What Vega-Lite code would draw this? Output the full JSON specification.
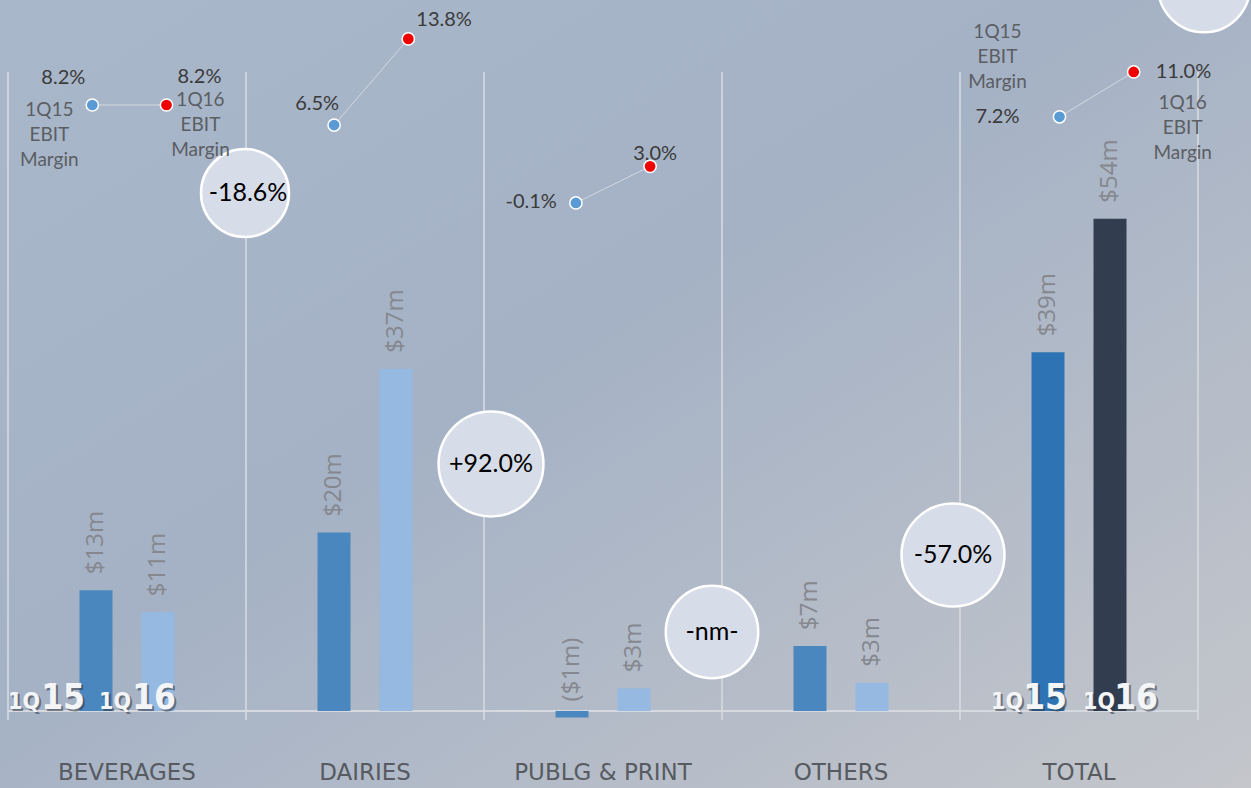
{
  "$schema": "https://vega.github.io/schema/vega-lite/v6.json",
  "width": 1251,
  "height": 788,
  "autosize": {"type": "none"},
  "padding": 0,
  "background": "#acb7c7",
  "config": {
    "font": "Lato",
    "view": {
      "stroke": null,
      "fill": {"gradient": "linear", "x1": 0, "y1": 0, "x2": 1, "y2": 1,
        "stops": [{"offset": 0, "color": "#a9b7ca"}, {"offset": 0.45, "color": "#a5b2c5"}, {"offset": 1, "color": "#c4c6cb"}]}
    }
  },
  "datasets": {
    "rows": [
      {"cat": "BEVERAGES", "period": "1Q15", "value": 13.2, "label": "$13m", "margin": 0.082, "mtext": "8.2%", "change": "-18.6%"},
      {"cat": "BEVERAGES", "period": "1Q16", "value": 10.8, "label": "$11m", "margin": 0.082, "mtext": "8.2%", "change": null},
      {"cat": "DAIRIES", "period": "1Q15", "value": 19.5, "label": "$20m", "margin": 0.065, "mtext": "6.5%", "change": "+92.0%"},
      {"cat": "DAIRIES", "period": "1Q16", "value": 37.4, "label": "$37m", "margin": 0.138, "mtext": "13.8%", "change": null},
      {"cat": "PUBLG & PRINT", "period": "1Q15", "value": -0.7, "label": "($1m)", "margin": -0.001, "mtext": "-0.1%", "change": "-nm-"},
      {"cat": "PUBLG & PRINT", "period": "1Q16", "value": 2.5, "label": "$3m", "margin": 0.030, "mtext": "3.0%", "change": null},
      {"cat": "OTHERS", "period": "1Q15", "value": 7.1, "label": "$7m", "margin": null, "mtext": null, "change": "-57.0%"},
      {"cat": "OTHERS", "period": "1Q16", "value": 3.1, "label": "$3m", "margin": null, "mtext": null, "change": null},
      {"cat": "TOTAL", "period": "1Q15", "value": 39.2, "label": "$39m", "margin": 0.072, "mtext": "7.2%", "change": ""},
      {"cat": "TOTAL", "period": "1Q16", "value": 53.8, "label": "$54m", "margin": 0.110, "mtext": "11.0%", "change": null}
    ]
  },
  "layer": [
    {
      "data": {"name": "rows"},
      "encoding": {
        "x": {"field": "cat", "type": "nominal", "sort": null, "axis": null, "scale": {"domain": ["BEVERAGES", "DAIRIES", "PUBLG & PRINT", "OTHERS", "TOTAL"], "range": [8, 1198], "paddingInner": 0, "paddingOuter": 0}},
        "y": {"field": "value", "type": "quantitative", "axis": null, "scale": {"domain": [-8.415, 77.705], "nice": false, "zero": false}}
      },
      "layer": [
        {
          "transform": [{"filter": "datum.period==='1Q15'"}],
          "mark": {"type": "rect", "color": "#d6dae0"},
          "encoding": {"y": {"datum": 0.12}, "y2": {"datum": -0.12}}
        },
        {
          "transform": [{"filter": "datum.period==='1Q15'"}],
          "mark": {"type": "rule", "color": "#d8dce2", "strokeWidth": 1.5},
          "encoding": {
            "x": {"field": "cat", "type": "nominal", "sort": null, "axis": null, "bandPosition": 0, "scale": {"domain": ["BEVERAGES", "DAIRIES", "PUBLG & PRINT", "OTHERS", "TOTAL"], "range": [8, 1198], "paddingInner": 0, "paddingOuter": 0}},
            "y": {"datum": 69.84}, "y2": {"datum": -0.98}
          }
        },
        {
          "transform": [{"filter": "datum.period==='1Q15' && datum.cat==='TOTAL'"}],
          "mark": {"type": "rule", "color": "#d8dce2", "strokeWidth": 1.5},
          "encoding": {
            "x": {"field": "cat", "type": "nominal", "sort": null, "axis": null, "bandPosition": 1, "scale": {"domain": ["BEVERAGES", "DAIRIES", "PUBLG & PRINT", "OTHERS", "TOTAL"], "range": [8, 1198], "paddingInner": 0, "paddingOuter": 0}},
            "y": {"datum": 69.84}, "y2": {"datum": -0.98}
          }
        },
        {
          "mark": {"type": "bar"},
          "encoding": {
            "xOffset": {"field": "period", "type": "nominal", "scale": {"domain": ["1Q15", "1Q16"], "range": [9.5, 228.5], "paddingInner": 0.468, "paddingOuter": 1}},
            "y2": {"datum": 0},
            "color": {
              "condition": [
                {"test": "datum.cat==='TOTAL' && datum.period==='1Q16'", "value": "#323d4f"},
                {"test": "datum.cat==='TOTAL'", "value": "#2e74b5"},
                {"test": "datum.period==='1Q16'", "value": "#95b9e0"}
              ],
              "value": "#4a87be"
            }
          }
        },
        {
          "mark": {"type": "text", "angle": 270, "align": "left", "baseline": "middle", "dx": 16, "fontSize": 24, "font": "Open Sans", "color": "#85888e"},
          "encoding": {
            "xOffset": {"field": "period", "type": "nominal", "scale": {"domain": ["1Q15", "1Q16"], "range": [9.5, 228.5], "paddingInner": 0.468, "paddingOuter": 1}},
            "text": {"field": "label"}
          }
        },
        {
          "transform": [{"filter": "datum.period==='1Q15'"}],
          "mark": {"type": "text", "align": "center", "baseline": "middle", "fontSize": 23, "font": "DejaVu Sans", "color": "#575b61"},
          "encoding": {"y": {"datum": -6.78}, "text": {"field": "cat"}}
        },
        {
          "transform": [{"filter": "datum.period==='1Q15' && datum.cat==='BEVERAGES'"}],
          "encoding": {
            "x": {"field": "cat", "type": "nominal", "sort": null, "axis": null, "bandPosition": 0, "scale": {"domain": ["BEVERAGES", "DAIRIES", "PUBLG & PRINT", "OTHERS", "TOTAL"], "range": [8, 1198], "paddingInner": 0, "paddingOuter": 0}},
            "y": {"datum": 0}
          },
          "layer": [
            {"mark": {"type": "text", "text": "1Q", "align": "right", "baseline": "alphabetic", "dx": 34, "dy": 0, "fontSize": 23, "fontWeight": "bold", "font": "Liberation Sans Narrow, DejaVu Sans Condensed, Lato", "color": "#2f3742", "opacity": 0.55}},
            {"mark": {"type": "text", "text": "15", "align": "right", "baseline": "alphabetic", "dx": 79, "dy": 0, "fontSize": 35, "fontWeight": "bold", "font": "Liberation Sans Narrow, DejaVu Sans Condensed, Lato", "color": "#2f3742", "opacity": 0.55}},
            {"mark": {"type": "text", "text": "1Q", "align": "right", "baseline": "alphabetic", "dx": 32, "dy": -2, "fontSize": 23, "fontWeight": "bold", "font": "Liberation Sans Narrow, DejaVu Sans Condensed, Lato", "color": "#f4f5f7"}},
            {"mark": {"type": "text", "text": "15", "align": "right", "baseline": "alphabetic", "dx": 77, "dy": -2, "fontSize": 35, "fontWeight": "bold", "font": "Liberation Sans Narrow, DejaVu Sans Condensed, Lato", "color": "#f4f5f7"}}
          ]
        },
        {
          "transform": [{"filter": "datum.period==='1Q16' && datum.cat==='BEVERAGES'"}],
          "encoding": {
            "x": {"field": "cat", "type": "nominal", "sort": null, "axis": null, "bandPosition": 0, "scale": {"domain": ["BEVERAGES", "DAIRIES", "PUBLG & PRINT", "OTHERS", "TOTAL"], "range": [8, 1198], "paddingInner": 0, "paddingOuter": 0}},
            "y": {"datum": 0}
          },
          "layer": [
            {"mark": {"type": "text", "text": "1Q", "align": "right", "baseline": "alphabetic", "dx": 125, "dy": 0, "fontSize": 23, "fontWeight": "bold", "font": "Liberation Sans Narrow, DejaVu Sans Condensed, Lato", "color": "#2f3742", "opacity": 0.55}},
            {"mark": {"type": "text", "text": "16", "align": "right", "baseline": "alphabetic", "dx": 170, "dy": 0, "fontSize": 35, "fontWeight": "bold", "font": "Liberation Sans Narrow, DejaVu Sans Condensed, Lato", "color": "#2f3742", "opacity": 0.55}},
            {"mark": {"type": "text", "text": "1Q", "align": "right", "baseline": "alphabetic", "dx": 123, "dy": -2, "fontSize": 23, "fontWeight": "bold", "font": "Liberation Sans Narrow, DejaVu Sans Condensed, Lato", "color": "#f4f5f7"}},
            {"mark": {"type": "text", "text": "16", "align": "right", "baseline": "alphabetic", "dx": 168, "dy": -2, "fontSize": 35, "fontWeight": "bold", "font": "Liberation Sans Narrow, DejaVu Sans Condensed, Lato", "color": "#f4f5f7"}}
          ]
        },
        {
          "transform": [{"filter": "datum.period==='1Q15' && datum.cat==='TOTAL'"}],
          "encoding": {
            "x": {"field": "cat", "type": "nominal", "sort": null, "axis": null, "bandPosition": 0, "scale": {"domain": ["BEVERAGES", "DAIRIES", "PUBLG & PRINT", "OTHERS", "TOTAL"], "range": [8, 1198], "paddingInner": 0, "paddingOuter": 0}},
            "y": {"datum": 0}
          },
          "layer": [
            {"mark": {"type": "text", "text": "1Q", "align": "right", "baseline": "alphabetic", "dx": 65, "dy": 0, "fontSize": 23, "fontWeight": "bold", "font": "Liberation Sans Narrow, DejaVu Sans Condensed, Lato", "color": "#2f3742", "opacity": 0.55}},
            {"mark": {"type": "text", "text": "15", "align": "right", "baseline": "alphabetic", "dx": 109, "dy": 0, "fontSize": 35, "fontWeight": "bold", "font": "Liberation Sans Narrow, DejaVu Sans Condensed, Lato", "color": "#2f3742", "opacity": 0.55}},
            {"mark": {"type": "text", "text": "1Q", "align": "right", "baseline": "alphabetic", "dx": 63, "dy": -2, "fontSize": 23, "fontWeight": "bold", "font": "Liberation Sans Narrow, DejaVu Sans Condensed, Lato", "color": "#f4f5f7"}},
            {"mark": {"type": "text", "text": "15", "align": "right", "baseline": "alphabetic", "dx": 107, "dy": -2, "fontSize": 35, "fontWeight": "bold", "font": "Liberation Sans Narrow, DejaVu Sans Condensed, Lato", "color": "#f4f5f7"}}
          ]
        },
        {
          "transform": [{"filter": "datum.period==='1Q16' && datum.cat==='TOTAL'"}],
          "encoding": {
            "x": {"field": "cat", "type": "nominal", "sort": null, "axis": null, "bandPosition": 0, "scale": {"domain": ["BEVERAGES", "DAIRIES", "PUBLG & PRINT", "OTHERS", "TOTAL"], "range": [8, 1198], "paddingInner": 0, "paddingOuter": 0}},
            "y": {"datum": 0}
          },
          "layer": [
            {"mark": {"type": "text", "text": "1Q", "align": "right", "baseline": "alphabetic", "dx": 157, "dy": 0, "fontSize": 23, "fontWeight": "bold", "font": "Liberation Sans Narrow, DejaVu Sans Condensed, Lato", "color": "#2f3742", "opacity": 0.55}},
            {"mark": {"type": "text", "text": "16", "align": "right", "baseline": "alphabetic", "dx": 200, "dy": 0, "fontSize": 35, "fontWeight": "bold", "font": "Liberation Sans Narrow, DejaVu Sans Condensed, Lato", "color": "#2f3742", "opacity": 0.55}},
            {"mark": {"type": "text", "text": "1Q", "align": "right", "baseline": "alphabetic", "dx": 155, "dy": -2, "fontSize": 23, "fontWeight": "bold", "font": "Liberation Sans Narrow, DejaVu Sans Condensed, Lato", "color": "#f4f5f7"}},
            {"mark": {"type": "text", "text": "16", "align": "right", "baseline": "alphabetic", "dx": 198, "dy": -2, "fontSize": 35, "fontWeight": "bold", "font": "Liberation Sans Narrow, DejaVu Sans Condensed, Lato", "color": "#f4f5f7"}}
          ]
        },
        {
          "transform": [{"filter": "datum.period==='1Q15' && datum.cat==='BEVERAGES'"}],
          "encoding": {
            "x": {"field": "cat", "type": "nominal", "sort": null, "axis": null, "scale": {"domain": ["BEVERAGES", "DAIRIES", "PUBLG & PRINT", "OTHERS", "TOTAL"], "range": [8, 1198], "paddingInner": 0, "paddingOuter": 0}},
            "xOffset": {"value": 237},
            "y": {"datum": 56.6}
          },
          "layer": [
            {"mark": {"type": "point", "shape": "circle", "filled": true, "color": "#d7dde8", "stroke": "#ffffff", "strokeWidth": 2.5, "size": 7744, "opacity": 1}},
            {"mark": {"type": "text", "fontSize": 25, "color": "#000000", "align": "center", "baseline": "middle", "dx": 3}, "encoding": {"text": {"field": "change"}}}
          ]
        },
        {
          "transform": [{"filter": "datum.period==='1Q15' && datum.cat==='DAIRIES'"}],
          "encoding": {
            "x": {"field": "cat", "type": "nominal", "sort": null, "axis": null, "scale": {"domain": ["BEVERAGES", "DAIRIES", "PUBLG & PRINT", "OTHERS", "TOTAL"], "range": [8, 1198], "paddingInner": 0, "paddingOuter": 0}},
            "xOffset": {"value": 245},
            "y": {"datum": 27.0}
          },
          "layer": [
            {"mark": {"type": "point", "shape": "circle", "filled": true, "color": "#d7dde8", "stroke": "#ffffff", "strokeWidth": 2.5, "size": 11000, "opacity": 1}},
            {"mark": {"type": "text", "fontSize": 25, "color": "#000000", "align": "center", "baseline": "middle"}, "encoding": {"text": {"field": "change"}}}
          ]
        },
        {
          "transform": [{"filter": "datum.period==='1Q15' && datum.cat==='PUBLG & PRINT'"}],
          "encoding": {
            "x": {"field": "cat", "type": "nominal", "sort": null, "axis": null, "scale": {"domain": ["BEVERAGES", "DAIRIES", "PUBLG & PRINT", "OTHERS", "TOTAL"], "range": [8, 1198], "paddingInner": 0, "paddingOuter": 0}},
            "xOffset": {"value": 228},
            "y": {"datum": 8.63}
          },
          "layer": [
            {"mark": {"type": "point", "shape": "circle", "filled": true, "color": "#d7dde8", "stroke": "#ffffff", "strokeWidth": 2.5, "size": 8556, "opacity": 1}},
            {"mark": {"type": "text", "fontSize": 25, "color": "#000000", "align": "center", "baseline": "middle"}, "encoding": {"text": {"field": "change"}}}
          ]
        },
        {
          "transform": [{"filter": "datum.period==='1Q15' && datum.cat==='OTHERS'"}],
          "encoding": {
            "x": {"field": "cat", "type": "nominal", "sort": null, "axis": null, "scale": {"domain": ["BEVERAGES", "DAIRIES", "PUBLG & PRINT", "OTHERS", "TOTAL"], "range": [8, 1198], "paddingInner": 0, "paddingOuter": 0}},
            "xOffset": {"value": 231},
            "y": {"datum": 17.05}
          },
          "layer": [
            {"mark": {"type": "point", "shape": "circle", "filled": true, "color": "#d7dde8", "stroke": "#ffffff", "strokeWidth": 2.5, "size": 10600, "opacity": 1}},
            {"mark": {"type": "text", "fontSize": 25, "color": "#000000", "align": "center", "baseline": "middle"}, "encoding": {"text": {"field": "change"}}}
          ]
        },
        {
          "transform": [{"filter": "datum.period==='1Q15' && datum.cat==='TOTAL'"}],
          "mark": {"type": "point", "shape": "circle", "filled": true, "color": "#d7dde8", "stroke": "#ffffff", "strokeWidth": 2.5, "size": 8464, "opacity": 1},
          "encoding": {
            "x": {"field": "cat", "type": "nominal", "sort": null, "axis": null, "scale": {"domain": ["BEVERAGES", "DAIRIES", "PUBLG & PRINT", "OTHERS", "TOTAL"], "range": [8, 1198], "paddingInner": 0, "paddingOuter": 0}},
            "xOffset": {"value": 244},
            "y": {"datum": 79.2}
          }
        }
      ]
    },
    {
      "data": {"name": "rows"},
      "transform": [{"filter": "datum.margin != null"}],
      "encoding": {
        "x": {"field": "cat", "type": "nominal", "sort": null, "axis": null, "scale": {"domain": ["BEVERAGES", "DAIRIES", "PUBLG & PRINT", "OTHERS", "TOTAL"], "range": [8, 1217], "paddingInner": 0, "paddingOuter": 0}},
        "xOffset": {"field": "period", "type": "nominal", "scale": {"domain": ["1Q15", "1Q16"], "range": [10.1, 232.7], "paddingInner": 0.468, "paddingOuter": 1}},
        "y": {"field": "margin", "type": "quantitative", "axis": null, "scale": {"domain": [-0.4968, 0.17098], "nice": false, "zero": false}}
      },
      "layer": [
        {"mark": {"type": "line", "color": "#d3d8e0", "strokeWidth": 1}, "encoding": {"detail": {"field": "cat"}}},
        {
          "mark": {"type": "point", "shape": "circle", "filled": true, "size": 150, "stroke": "#ffffff", "strokeWidth": 1.5, "opacity": 1},
          "encoding": {"color": {"condition": {"test": "datum.period==='1Q16'", "value": "#f00000"}, "value": "#5b9bd5"}}
        },
        {"transform": [{"filter": "datum.cat==='BEVERAGES' && datum.period==='1Q15'"}], "mark": {"type": "text", "align": "right", "baseline": "middle", "dx": -7, "dy": -27, "fontSize": 20, "color": "#3a3a3a"}, "encoding": {"text": {"field": "mtext"}}},
        {"transform": [{"filter": "datum.cat==='BEVERAGES' && datum.period==='1Q16'"}], "mark": {"type": "text", "align": "left", "baseline": "middle", "dx": 11, "dy": -28, "fontSize": 20, "color": "#3a3a3a"}, "encoding": {"text": {"field": "mtext"}}},
        {"transform": [{"filter": "datum.cat==='DAIRIES' && datum.period==='1Q15'"}], "mark": {"type": "text", "align": "right", "baseline": "middle", "dx": 5, "dy": -21, "fontSize": 20, "color": "#3a3a3a"}, "encoding": {"text": {"field": "mtext"}}},
        {"transform": [{"filter": "datum.cat==='DAIRIES' && datum.period==='1Q16'"}], "mark": {"type": "text", "align": "left", "baseline": "middle", "dx": 8, "dy": -19, "fontSize": 20, "color": "#3a3a3a"}, "encoding": {"text": {"field": "mtext"}}},
        {"transform": [{"filter": "datum.cat==='PUBLG & PRINT' && datum.period==='1Q15'"}], "mark": {"type": "text", "align": "right", "baseline": "middle", "dx": -19, "dy": -1, "fontSize": 20, "color": "#3a3a3a"}, "encoding": {"text": {"field": "mtext"}}},
        {"transform": [{"filter": "datum.cat==='PUBLG & PRINT' && datum.period==='1Q16'"}], "mark": {"type": "text", "align": "center", "baseline": "middle", "dx": 5, "dy": -12, "fontSize": 20, "color": "#3a3a3a"}, "encoding": {"text": {"field": "mtext"}}},
        {"transform": [{"filter": "datum.cat==='TOTAL' && datum.period==='1Q15'"}], "mark": {"type": "text", "align": "right", "baseline": "middle", "dx": -40, "dy": 0, "fontSize": 20, "color": "#3a3a3a"}, "encoding": {"text": {"field": "mtext"}}},
        {"transform": [{"filter": "datum.cat==='TOTAL' && datum.period==='1Q16'"}], "mark": {"type": "text", "align": "left", "baseline": "middle", "dx": 22, "dy": 0, "fontSize": 20, "color": "#3a3a3a"}, "encoding": {"text": {"field": "mtext"}}},
        {"transform": [{"filter": "datum.cat==='BEVERAGES' && datum.period==='1Q15'"}], "mark": {"type": "text", "text": ["1Q15", "EBIT", "Margin"], "align": "center", "baseline": "top", "lineHeight": 25, "dx": -43, "dy": -4, "fontSize": 19, "color": "#5b5e63"}},
        {"transform": [{"filter": "datum.cat==='BEVERAGES' && datum.period==='1Q16'"}], "mark": {"type": "text", "text": ["1Q16", "EBIT", "Margin"], "align": "center", "baseline": "top", "lineHeight": 25, "dx": 34, "dy": -14, "fontSize": 19, "color": "#5b5e63"}},
        {"transform": [{"filter": "datum.cat==='TOTAL' && datum.period==='1Q15'"}], "mark": {"type": "text", "text": ["1Q15", "EBIT", "Margin"], "align": "center", "baseline": "top", "lineHeight": 25, "dx": -62, "dy": -94, "fontSize": 19, "color": "#5b5e63"}},
        {"transform": [{"filter": "datum.cat==='TOTAL' && datum.period==='1Q16'"}], "mark": {"type": "text", "text": ["1Q16", "EBIT", "Margin"], "align": "center", "baseline": "top", "lineHeight": 25, "dx": 49, "dy": 22, "fontSize": 19, "color": "#5b5e63"}}
      ]
    }
  ],
  "resolve": {"scale": {"x": "independent", "xOffset": "independent", "y": "independent"}}
}
